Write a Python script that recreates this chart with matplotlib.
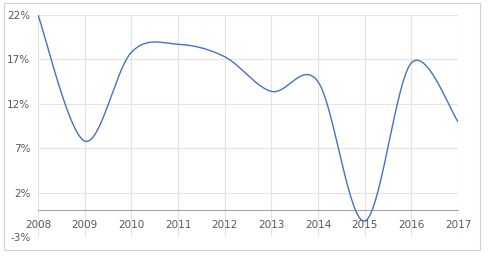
import numpy as np
import matplotlib
matplotlib.use("Agg")
import matplotlib.pyplot as plt
from matplotlib.patches import Rectangle
from matplotlib.ticker import FuncFormatter

years = [2008, 2009, 2010, 2011, 2012, 2013, 2014, 2015, 2016, 2017]
growth = [22.0, 7.8, 17.8, 18.7, 17.3, 13.4, 14.5, -1.2, 16.6, 10.0]
yticks = [-3, 2, 7, 12, 17, 22]


def smooth(x, y, n=40):
    # excel-style smoothed line: bezier segments, control points at 1/6 of neighbour chord
    x = np.asarray(x, float)
    y = np.asarray(y, float)
    px = np.concatenate([[x[0]], x, [x[-1]]])
    py = np.concatenate([[y[0]], y, [y[-1]]])
    t = np.linspace(0, 1, n)[:, None]
    xs, ys = [], []
    for i in range(1, len(px) - 2):
        p0 = np.array([px[i], py[i]])
        p3 = np.array([px[i + 1], py[i + 1]])
        p1 = p0 + (np.array([px[i + 1], py[i + 1]]) - np.array([px[i - 1], py[i - 1]])) / 6
        p2 = p3 - (np.array([px[i + 2], py[i + 2]]) - p0) / 6
        pts = (1 - t) ** 3 * p0 + 3 * (1 - t) ** 2 * t * p1 + 3 * (1 - t) * t ** 2 * p2 + t ** 3 * p3
        xs.extend(pts[:, 0])
        ys.extend(pts[:, 1])
    return np.array(xs), np.array(ys)


fig = plt.figure(figsize=(4.88, 2.56), dpi=100)
ax = fig.add_axes([38 / 488, 1 - 237 / 256, 420 / 488, 222 / 256])

sx, sy = smooth(years, growth)
ax.plot(sx, sy, color="#4472C4", lw=1.0, zorder=3)

ax.set_xlim(years[0], years[-1])
ax.set_ylim(yticks[0], yticks[-1])
ax.set_xticks(years)
ax.set_yticks(yticks)
ax.yaxis.set_major_formatter(FuncFormatter(lambda v, p: "%d%%" % v))
ax.grid(True, color="#e3e3e3", lw=0.8)
ax.set_axisbelow(True)

for s in ["top", "right", "left"]:
    ax.spines[s].set_visible(False)
ax.spines["bottom"].set_position(("data", 0))
ax.spines["bottom"].set_color("#a6a6a6")
ax.spines["bottom"].set_linewidth(0.8)
ax.tick_params(length=0, labelsize=7.5, colors="#595959")
ax.tick_params(axis="x", pad=7)
ax.tick_params(axis="y", pad=5.5)

fig.patches.append(Rectangle((4 / 488, 1 - 250 / 256), 476 / 488, 247 / 256,
                             transform=fig.transFigure, fill=False,
                             edgecolor="#d0d0d0", lw=0.8))

fig.savefig("out.png", dpi=100)
